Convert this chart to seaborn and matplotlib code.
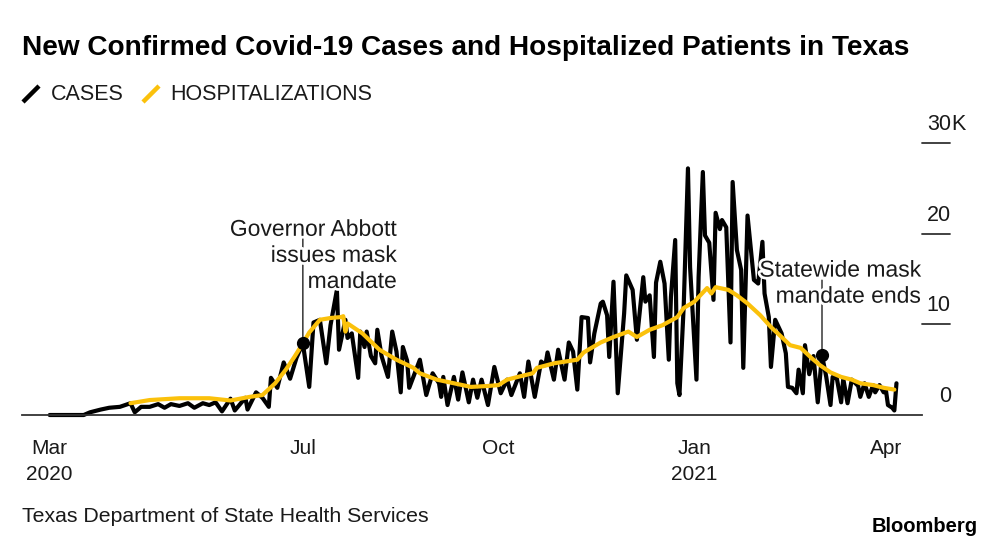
import matplotlib
matplotlib.use("Agg")
import pandas as pd
import seaborn as sns
from matplotlib import pyplot as plt
from matplotlib import patheffects
from matplotlib.lines import Line2D

# Texas daily new cases / hospitalized patients (thousands)
start = pd.Timestamp("2020-03-04")

case_days = [0, 16, 19, 24, 28, 33, 38, 40, 43, 47, 51, 54, 57, 61, 65, 68, 72, 75, 78, 81,
             85, 87, 92, 93, 97, 100, 103, 104, 107, 110, 113, 116, 119, 122, 124, 127, 130,
             132, 135, 136, 139, 140, 142, 145, 146, 148, 149, 151, 153, 154, 156, 159, 161,
             163, 165, 166, 168, 169, 174, 177, 180, 183, 184, 185, 187, 190, 192, 194, 197,
             199, 201, 203, 206, 209, 212, 215, 217, 221, 223, 225, 228, 231, 233, 234, 237,
             239, 242, 244, 246, 248, 250, 253, 254, 256, 259, 260, 262, 263, 265, 267, 270,
             271, 274, 276, 279, 280, 282, 284, 285, 287, 289, 291, 292, 294, 295, 296, 298,
             300, 301, 304, 305, 307, 308, 310, 312, 313, 315, 316, 318, 320, 321, 323, 325,
             326, 328, 331, 333, 335, 336, 338, 339, 341, 344, 346, 347, 349, 351, 352, 354,
             355, 357, 359, 360, 361, 363, 365, 367, 368, 370, 372, 373, 375, 377, 380, 381,
             383, 385, 387, 388, 390, 392, 393, 394, 396, 397, 398]
case_k = [0, 0, 0.3, 0.6, 0.8, 0.9, 1.3, 0.3, 0.9, 0.9, 1.2, 0.8, 1.2, 1.0, 1.3, 0.8, 1.3, 1.1,
          1.4, 0.4, 1.8, 0.5, 1.9, 0.6, 2.5, 1.9, 0.9, 4.1, 3.0, 5.8, 4.0, 6.3, 7.9, 3.1, 10.2,
          10.5, 5.7, 9.9, 13.8, 7.2, 10.5, 8.5, 9.0, 4.1, 9.2, 7.5, 9.2, 6.5, 5.7, 9.4, 6.5,
          4.2, 9.2, 7.0, 2.5, 7.5, 6.0, 3.0, 6.1, 2.2, 4.6, 3.5, 2.0, 4.2, 1.1, 4.2, 1.7, 4.7,
          1.4, 3.9, 1.9, 3.9, 1.1, 5.3, 2.4, 3.9, 2.2, 4.6, 2.0, 5.9, 2.0, 5.9, 5.5, 6.9, 3.9,
          7.2, 3.9, 8.0, 7.0, 2.8, 10.8, 10.7, 5.8, 9.0, 12.3, 12.5, 11.0, 6.4, 14.7, 2.4,
          11.2, 15.4, 13.8, 8.3, 15.2, 12.5, 13.2, 6.4, 14.6, 16.9, 14.5, 6.1, 13.0, 19.3,
          3.5, 2.2, 12.0, 27.2, 16.3, 3.9, 15.2, 26.8, 19.8, 19.0, 12.7, 22.3, 20.5, 21.5,
          20.7, 8.0, 25.7, 18.2, 16.0, 5.2, 22.0, 14.9, 14.5, 19.1, 13.4, 10.8, 5.3, 10.5,
          9.0, 6.8, 3.1, 3.0, 2.4, 5.0, 2.4, 7.7, 4.5, 6.5, 4.0, 1.4, 6.6, 4.2, 1.1, 4.2,
          4.0, 1.4, 4.0, 1.3, 3.9, 3.2, 2.0, 3.5, 2.0, 3.3, 2.5, 3.3, 2.5, 2.8, 1.1, 0.8,
          0.5, 3.5]

hosp_days = [38, 47, 61, 75, 85, 94, 100, 106, 111, 115, 119, 122, 127, 132, 137, 138, 139,
             140, 147, 155, 163, 171, 174, 182, 190, 198, 206, 211, 215, 220, 227, 229, 237,
             248, 251, 259, 265, 272, 276, 282, 288, 295, 298, 303, 309, 311, 313, 319, 323,
             328, 334, 339, 344, 348, 353, 358, 362, 367, 372, 377, 381, 387, 392, 397]
hosp_k = [1.3, 1.65, 1.85, 1.85, 1.6, 2.0, 2.2, 3.5, 5.0, 6.4, 7.9, 9.1, 10.5, 10.7, 10.8,
          10.9, 9.2, 10.1, 9.0, 7.2, 6.1, 5.2, 4.6, 3.9, 3.5, 3.1, 3.2, 3.3, 3.9, 4.2, 4.6,
          5.2, 5.7, 6.1, 6.9, 8.0, 8.6, 9.2, 8.6, 9.4, 9.9, 10.8, 11.8, 12.5, 14.0, 13.4,
          14.1, 13.8, 13.2, 12.3, 11.0, 9.7, 8.6, 7.7, 7.4, 6.3, 5.5, 4.7, 4.2, 3.9, 3.5,
          3.3, 3.0, 2.8]

x_ticks = ["2020-03-04", "2020-07-01", "2020-10-01", "2021-01-01", "2021-04-01"]
x_labels = ["Mar\n2020", "Jul", "Oct", "Jan\n2021", "Apr"]
y_ticks = [0, 10, 20, 30]
y_labels = ["0", "10", "20", "30"]
y_unit = "K"

ann_dates = ["2020-07-01", "2021-03-02"]
ann_k = [7.9, 6.6]
ann_text = ["Governor Abbott\nissues mask\nmandate", "Statewide mask\nmandate ends"]

BLACK = "#000000"
YELLOW = "#FBC10B"
TXT = "#1a1a1a"

cases = pd.DataFrame({"date": start + pd.to_timedelta(case_days, unit="D"), "k": case_k})
hosp = pd.DataFrame({"date": start + pd.to_timedelta(hosp_days, unit="D"), "k": hosp_k})

sns.set_style("white")
plt.rcParams["font.family"] = ["Liberation Sans", "DejaVu Sans"]

fig = plt.figure(figsize=(10, 5.47), dpi=100)
ax = fig.add_axes([0.022, 0.2413, 0.900, 0.4973])

sns.lineplot(data=cases, x="date", y="k", color=BLACK, lw=3.0, ax=ax, legend=False)
sns.lineplot(data=hosp, x="date", y="k", color=YELLOW, lw=3.0, ax=ax, legend=False)
for ln in ax.get_lines():
    ln.set_clip_on(False)
    ln.set_solid_joinstyle("round")
    ln.set_solid_capstyle("round")

ax.set_xlim(pd.Timestamp("2020-02-20"), pd.Timestamp("2021-04-18"))
ax.set_ylim(0, 30)

for s in ["top", "left", "right"]:
    ax.spines[s].set_visible(False)
ax.spines["bottom"].set_color("#333333")
ax.spines["bottom"].set_linewidth(1.3)
ax.set_xticks(pd.to_datetime(x_ticks))
ax.set_xticklabels(x_labels, fontsize=15, color=TXT, linespacing=1.5)
ax.tick_params(axis="x", direction="out", length=7, width=1.2, color="#333333", pad=10)
ax.set_yticks([])
ax.set_xlabel("")
ax.set_ylabel("")

# right-hand value ticks, Bloomberg style: short rule with the label above it
ytr = ax.get_yaxis_transform()
for v, lab in zip(y_ticks, y_labels):
    if v > 0:
        ax.plot([1.0, 1.031], [v, v], transform=ytr, color="#333333", lw=1.3, clip_on=False)
    ax.annotate(lab, xy=(1.032, v), xycoords=ytr, xytext=(0, 13), textcoords="offset pixels",
                ha="right", va="baseline", fontsize=15.5, color=TXT)
ax.annotate(y_unit, xy=(1.032, y_ticks[-1]), xycoords=ytr, xytext=(0, 13),
            textcoords="offset pixels", ha="left", va="baseline", fontsize=15.5, color=TXT)

# annotations
offsets = [(94, 88), (99, 72)]
stems = [105, 75]
halo = [patheffects.withStroke(linewidth=4, foreground="white")]
for d, v, t, off, st in zip(ann_dates, ann_k, ann_text, offsets, stems):
    xd = pd.Timestamp(d)
    ax.annotate("", xy=(xd, v), xytext=(0, st), textcoords="offset pixels",
                arrowprops=dict(arrowstyle="-", color="#222222", lw=1.0, shrinkA=0, shrinkB=0),
                annotation_clip=False)
    ax.plot([xd], [v], "o", color=BLACK, ms=8.5, zorder=5, clip_on=False)
    ax.annotate(t, xy=(xd, v), xytext=off, textcoords="offset pixels", ha="right",
                va="center", multialignment="right", fontsize=16.5, color=TXT,
                linespacing=1.17, path_effects=halo, zorder=6)

# title and legend
fig.text(0.022, 0.912, "New Confirmed Covid-19 Cases and Hospitalized Patients in Texas",
         fontsize=20.2, fontweight="bold", color="#000000", va="center", ha="left")
W, H = 1000, 547
for (x0, x1), col, lab, tx in [((23, 39), BLACK, "CASES", 51), ((143, 159), YELLOW, "HOSPITALIZATIONS", 170)]:
    fig.add_artist(Line2D([x0 / W, x1 / W], [1 - 102 / H, 1 - 86 / H], color=col, lw=3.2,
                          solid_capstyle="butt", transform=fig.transFigure))
    fig.text(tx / W, 1 - 94 / H, lab, fontsize=15.5, color=TXT, va="center", ha="left")

fig.text(0.022, 1 - 517 / H, "Texas Department of State Health Services", fontsize=15.3,
         color=TXT, va="center", ha="left")
fig.text(0.978, 1 - 526 / H, "Bloomberg", fontsize=14.5, fontweight="bold", color="#000000",
         va="center", ha="right")

fig.savefig("out.png", dpi=100)
